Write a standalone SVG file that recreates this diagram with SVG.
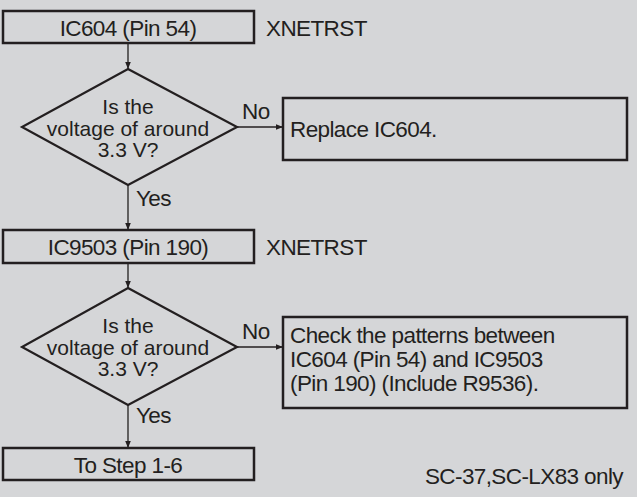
<svg xmlns="http://www.w3.org/2000/svg" width="637" height="497" viewBox="0 0 637 497">
<style>
text{font-family:"Liberation Sans",Arial,sans-serif;font-size:22.5px;letter-spacing:-0.6px;fill:#231f20}
.c{text-anchor:middle}
.dt{font-size:21px;letter-spacing:0}
.box{fill:none;stroke:#231f20;stroke-width:2.5}
.dia{fill:none;stroke:#231f20;stroke-width:2.2}
.ln{fill:none;stroke:#231f20;stroke-width:1.3}
</style>
<defs>
<marker id="ah" viewBox="0 0 10 8" refX="10" refY="4" markerWidth="7" markerHeight="5.6" markerUnits="userSpaceOnUse" orient="auto">
<path d="M0,0 L10,4 L0,8 Z" fill="#231f20"/>
</marker>
</defs>
<rect width="637" height="497" fill="#d5d6d8"/>
<g id="connectors">
<line class="ln" x1="128" y1="43" x2="128" y2="69" marker-end="url(#ah)"/>
<line class="ln" x1="237" y1="127" x2="283" y2="127" marker-end="url(#ah)"/>
<line class="ln" x1="128" y1="185" x2="128" y2="230" marker-end="url(#ah)"/>
<line class="ln" x1="128" y1="263" x2="128" y2="288" marker-end="url(#ah)"/>
<line class="ln" x1="237" y1="347" x2="283" y2="347" marker-end="url(#ah)"/>
<line class="ln" x1="128" y1="405" x2="128" y2="448" marker-end="url(#ah)"/>
<text x="242" y="119">No</text>
<text x="136" y="206">Yes</text>
<text x="242" y="339">No</text>
<text x="136" y="423">Yes</text>
</g>
<g id="n1">
<rect class="box" x="3" y="11" width="251" height="32"/>
<text class="c" x="128" y="35.5">IC604 (Pin 54)</text>
</g>
<g id="n1label"><text x="266" y="35.5">XNETRST</text></g>
<g id="d1">
<polygon class="dia" points="128,69 237,127 128,185 22,127"/>
<text class="c dt" x="128" y="114">Is the</text>
<text class="c dt" x="128" y="135.5">voltage of around</text>
<text class="c dt" x="128" y="157">3.3 V?</text>
</g>
<g id="n2">
<rect class="box" x="283" y="98" width="344" height="62"/>
<text x="290" y="137">Replace IC604.</text>
</g>
<g id="n3">
<rect class="box" x="3" y="230" width="251" height="33"/>
<text class="c" x="128" y="254.5">IC9503 (Pin 190)</text>
</g>
<g id="n3label"><text x="266" y="254.5">XNETRST</text></g>
<g id="d2">
<polygon class="dia" points="128,288 237,347 128,405 22,347"/>
<text class="c dt" x="128" y="333">Is the</text>
<text class="c dt" x="128" y="354.5">voltage of around</text>
<text class="c dt" x="128" y="376">3.3 V?</text>
</g>
<g id="n4">
<rect class="box" x="283" y="317" width="344" height="91"/>
<text x="290" y="343">Check the patterns between</text>
<text x="290" y="367">IC604 (Pin 54) and IC9503</text>
<text x="290" y="391">(Pin 190) (Include R9536).</text>
</g>
<g id="n5">
<rect class="box" x="3" y="448" width="251" height="32"/>
<text class="c" x="128" y="472.5">To Step 1-6</text>
</g>
<g id="note"><text x="623" y="484" text-anchor="end">SC-37,SC-LX83 only</text></g>
</svg>
